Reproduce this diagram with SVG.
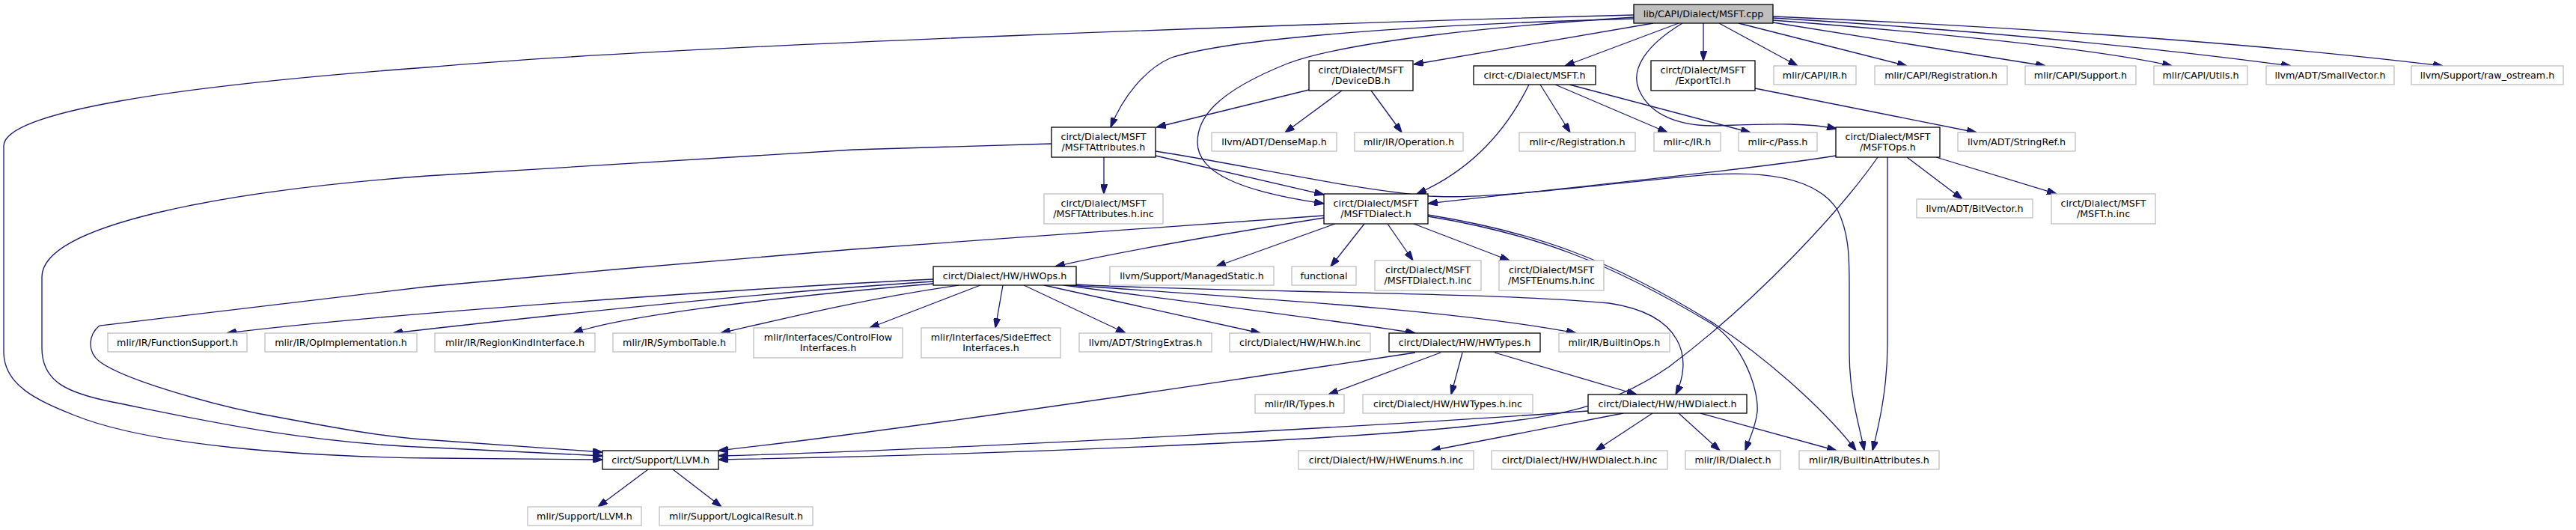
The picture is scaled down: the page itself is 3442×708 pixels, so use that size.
<svg xmlns="http://www.w3.org/2000/svg" width="3442" height="708" viewBox="0 0 3442 708">
<style>
.n rect{fill:#fff;stroke:#000;stroke-width:1.3}
.x rect{fill:#fff;stroke:#bfbfbf;stroke-width:1.3}
.r rect{fill:#bfbfbf;stroke:#000;stroke-width:1.3}
text{font-family:"DejaVu Sans","Liberation Sans",sans-serif;font-size:12.7px;fill:#000;text-anchor:middle}
.e path{fill:none;stroke:#191970;stroke-width:1.3;marker-end:url(#a)}
</style>
<defs>
<marker id="a" viewBox="0 0 10 7" refX="10" refY="3.5" markerUnits="userSpaceOnUse" markerWidth="13" markerHeight="9" orient="auto">
<path d="M0,0 L10,3.5 L0,7 z" fill="#191970" stroke="#191970"/>
</marker>
</defs>
<rect width="3442" height="708" fill="#fff"/>
<g class="e" id="edges">
<path d="M2183,20 C1800,30 900,60 570,90 C230,115 5,150 5,195 L5,470 C5,515 50,535 100,555 C200,595 400,610 580,612 L805,614"/>
<path d="M1405,192 L1140,200 L570,235 C300,255 56,300 56,370 L56,465 C56,510 90,525 150,537 C250,557 400,592 580,598 L805,609"/>
<path d="M1769,288 L1140,333 L821,360 L570,383 L133,435 C118,447 116,470 133,483 C170,510 300,545 370,557 C450,572 520,585 580,588 L805,604"/>
<path d="M2209,31 L1889,86"/>
<path d="M2243,31 L2091,88"/>
<path d="M2276,31 L2276,81"/>
<path d="M2248,31 C2200,60 2178,92 2190,120 C2205,155 2245,168 2290,168 C2360,166 2410,163 2454,172"/>
<path d="M2297,31 L2402,88"/>
<path d="M2323,31 L2548,88"/>
<path d="M2369,30 L2733,88"/>
<path d="M2369,27 C2600,45 2800,65 2902,88"/>
<path d="M2369,24 C2600,38 2850,60 3061,88"/>
<path d="M2369,22 C2600,32 2950,50 3264,88"/>
<path d="M2183,25 C1900,33 1650,50 1565,77 C1530,92 1500,130 1484,170"/>
<path d="M2183,23 C2000,35 1800,55 1720,85 C1620,125 1600,160 1600,190 C1600,232 1660,256 1769,272"/>
<path d="M1544,208 L1769,260"/>
<path d="M1544,202 C1650,218 1800,252 1910,262 C2000,268 2200,238 2290,233 C2380,228 2432,245 2455,280 C2470,310 2471,340 2471,380 L2471,470 C2471,530 2485,570 2491,602"/>
<path d="M1908,287 C2050,310 2150,345 2290,432 C2380,492 2450,562 2480,602"/>
<path d="M1908,289 C2050,312 2150,350 2288,433 C2330,462 2350,520 2348,550 C2346,570 2338,585 2332,602"/>
<path d="M2453,208 C2350,225 2100,250 1908,272"/>
<path d="M2509,210 C2460,280 2350,400 2230,490 C2150,545 2080,555 2000,565 C1800,590 1300,608 960,614"/>
<path d="M2522,210 L2522,460 C2522,520 2510,570 2502,602"/>
<path d="M2548,210 L2622,266"/>
<path d="M2587,210 L2748,259"/>
<path d="M2043,113 C2010,180 1960,230 1893,259"/>
<path d="M2058,113 L2098,177"/>
<path d="M2078,113 L2228,177"/>
<path d="M2097,113 L2339,177"/>
<path d="M2345,118 L2641,177"/>
<path d="M1793,121 L1717,177"/>
<path d="M1832,121 L1873,177"/>
<path d="M1749,120 L1545,170"/>
<path d="M1475,210 L1475,259"/>
<path d="M1769,291 C1650,310 1500,335 1410,356"/>
<path d="M1784,299 L1625,356"/>
<path d="M1823,299 L1778,356"/>
<path d="M1854,299 L1888,348"/>
<path d="M1889,299 L2017,348"/>
<path d="M1247,373 C1000,385 500,420 303,445"/>
<path d="M1247,376 C1000,392 700,425 525,445"/>
<path d="M1247,379 C1000,400 820,425 766,445"/>
<path d="M1281,381 C1150,400 1050,425 963,445"/>
<path d="M1310,381 L1162,438"/>
<path d="M1340,381 L1330,438"/>
<path d="M1368,381 L1504,445"/>
<path d="M1395,381 L1684,445"/>
<path d="M1421,381 C1600,405 1800,430 1891,445"/>
<path d="M1429,381 C1700,400 1950,415 2106,445"/>
<path d="M1438,380 C1600,390 2000,390 2150,405 C2250,420 2262,480 2239,527"/>
<path d="M1891,471 C1700,500 1200,575 960,602"/>
<path d="M1925,471 L1775,527"/>
<path d="M1954,471 L1939,527"/>
<path d="M1997,471 L2187,527"/>
<path d="M2122,549 C1900,565 1300,600 960,609"/>
<path d="M2169,552 L1912,602"/>
<path d="M2208,552 L2132,602"/>
<path d="M2243,552 L2298,602"/>
<path d="M2272,552 L2454,602"/>
<path d="M866,627 L799,677"/>
<path d="M899,627 L964,677"/>
</g>
<g id="root" class="r"><rect x="2183" y="6" width="186" height="25"/><text x="2276" y="23">lib/CAPI/Dialect/MSFT.cpp</text></g>
<g id="devicedb" class="n"><rect x="1749" y="81" width="139" height="40"/><text x="1818.5" y="97.5">circt/Dialect/MSFT</text><text x="1818.5" y="112">/DeviceDB.h</text></g>
<g id="circtc_msft" class="n"><rect x="1969" y="88" width="163" height="25"/><text x="2050.5" y="104.5">circt-c/Dialect/MSFT.h</text></g>
<g id="exporttcl" class="n"><rect x="2206" y="81" width="139" height="40"/><text x="2275.5" y="97.5">circt/Dialect/MSFT</text><text x="2275.5" y="112">/ExportTcl.h</text></g>
<g id="capi_ir" class="x"><rect x="2370" y="88" width="110" height="25"/><text x="2425" y="104.5">mlir/CAPI/IR.h</text></g>
<g id="capi_reg" class="x"><rect x="2505" y="88" width="177" height="25"/><text x="2593.5" y="104.5">mlir/CAPI/Registration.h</text></g>
<g id="capi_sup" class="x"><rect x="2706" y="88" width="148" height="25"/><text x="2780" y="104.5">mlir/CAPI/Support.h</text></g>
<g id="capi_utils" class="x"><rect x="2878" y="88" width="125" height="25"/><text x="2940.5" y="104.5">mlir/CAPI/Utils.h</text></g>
<g id="smallvector" class="x"><rect x="3028" y="88" width="171" height="25"/><text x="3113.5" y="104.5">llvm/ADT/SmallVector.h</text></g>
<g id="raw_ostream" class="x"><rect x="3222" y="88" width="203" height="25"/><text x="3323.5" y="104.5">llvm/Support/raw_ostream.h</text></g>
<g id="msftattr" class="n"><rect x="1405" y="170" width="139" height="40"/><text x="1474.5" y="186.5">circt/Dialect/MSFT</text><text x="1474.5" y="201">/MSFTAttributes.h</text></g>
<g id="densemap" class="x"><rect x="1619" y="177" width="167" height="25"/><text x="1702.5" y="193.5">llvm/ADT/DenseMap.h</text></g>
<g id="operation" class="x"><rect x="1810" y="177" width="145" height="25"/><text x="1882.5" y="193.5">mlir/IR/Operation.h</text></g>
<g id="mlirc_reg" class="x"><rect x="2030" y="177" width="155" height="25"/><text x="2107.5" y="193.5">mlir-c/Registration.h</text></g>
<g id="mlirc_ir" class="x"><rect x="2210" y="177" width="89" height="25"/><text x="2254.5" y="193.5">mlir-c/IR.h</text></g>
<g id="mlirc_pass" class="x"><rect x="2323" y="177" width="105" height="25"/><text x="2375.5" y="193.5">mlir-c/Pass.h</text></g>
<g id="msftops" class="n"><rect x="2453" y="170" width="139" height="40"/><text x="2522.5" y="186.5">circt/Dialect/MSFT</text><text x="2522.5" y="201">/MSFTOps.h</text></g>
<g id="stringref" class="x"><rect x="2616" y="177" width="157" height="25"/><text x="2694.5" y="193.5">llvm/ADT/StringRef.h</text></g>
<g id="msftattr_inc" class="x"><rect x="1395" y="259" width="159" height="40"/><text x="1474.5" y="275.5">circt/Dialect/MSFT</text><text x="1474.5" y="290">/MSFTAttributes.h.inc</text></g>
<g id="msftdialect" class="n"><rect x="1769" y="259" width="139" height="40"/><text x="1838.5" y="275.5">circt/Dialect/MSFT</text><text x="1838.5" y="290">/MSFTDialect.h</text></g>
<g id="bitvector" class="x"><rect x="2561" y="266" width="155" height="25"/><text x="2638.5" y="282.5">llvm/ADT/BitVector.h</text></g>
<g id="msft_inc" class="x"><rect x="2741" y="259" width="139" height="40"/><text x="2810.5" y="275.5">circt/Dialect/MSFT</text><text x="2810.5" y="290">/MSFT.h.inc</text></g>
<g id="hwops" class="n"><rect x="1247" y="356" width="191" height="25"/><text x="1342.5" y="372.5">circt/Dialect/HW/HWOps.h</text></g>
<g id="managedstatic" class="x"><rect x="1483" y="356" width="219" height="25"/><text x="1592.5" y="372.5">llvm/Support/ManagedStatic.h</text></g>
<g id="functional" class="x"><rect x="1726" y="356" width="86" height="25"/><text x="1769" y="372.5">functional</text></g>
<g id="msftdialect_inc" class="x"><rect x="1837" y="348" width="142" height="40"/><text x="1908" y="364.5">circt/Dialect/MSFT</text><text x="1908" y="379">/MSFTDialect.h.inc</text></g>
<g id="msftenums_inc" class="x"><rect x="2003" y="348" width="140" height="40"/><text x="2073" y="364.5">circt/Dialect/MSFT</text><text x="2073" y="379">/MSFTEnums.h.inc</text></g>
<g id="funcsupport" class="x"><rect x="144" y="445" width="186" height="25"/><text x="237" y="461.5">mlir/IR/FunctionSupport.h</text></g>
<g id="opimpl" class="x"><rect x="354" y="445" width="203" height="25"/><text x="455.5" y="461.5">mlir/IR/OpImplementation.h</text></g>
<g id="regionkind" class="x"><rect x="581" y="445" width="214" height="25"/><text x="688" y="461.5">mlir/IR/RegionKindInterface.h</text></g>
<g id="symboltable" class="x"><rect x="819" y="445" width="164" height="25"/><text x="901" y="461.5">mlir/IR/SymbolTable.h</text></g>
<g id="controlflow" class="x"><rect x="1007" y="438" width="199" height="40"/><text x="1106.5" y="454.5">mlir/Interfaces/ControlFlow</text><text x="1106.5" y="469">Interfaces.h</text></g>
<g id="sideeffect" class="x"><rect x="1231" y="438" width="186" height="40"/><text x="1324" y="454.5">mlir/Interfaces/SideEffect</text><text x="1324" y="469">Interfaces.h</text></g>
<g id="stringextras" class="x"><rect x="1442" y="445" width="177" height="25"/><text x="1530.5" y="461.5">llvm/ADT/StringExtras.h</text></g>
<g id="hw_inc" class="x"><rect x="1643" y="445" width="188" height="25"/><text x="1737" y="461.5">circt/Dialect/HW/HW.h.inc</text></g>
<g id="hwtypes" class="n"><rect x="1856" y="445" width="202" height="25"/><text x="1957" y="461.5">circt/Dialect/HW/HWTypes.h</text></g>
<g id="builtinops" class="x"><rect x="2083" y="445" width="148" height="25"/><text x="2157" y="461.5">mlir/IR/BuiltinOps.h</text></g>
<g id="types" class="x"><rect x="1677" y="527" width="119" height="25"/><text x="1736.5" y="543.5">mlir/IR/Types.h</text></g>
<g id="hwtypes_inc" class="x"><rect x="1821" y="527" width="227" height="25"/><text x="1934.5" y="543.5">circt/Dialect/HW/HWTypes.h.inc</text></g>
<g id="hwdialect" class="n"><rect x="2122" y="527" width="212" height="25"/><text x="2228" y="543.5">circt/Dialect/HW/HWDialect.h</text></g>
<g id="circt_llvm" class="n"><rect x="805" y="602" width="155" height="25"/><text x="882.5" y="618.5">circt/Support/LLVM.h</text></g>
<g id="hwenums_inc" class="x"><rect x="1735" y="602" width="234" height="25"/><text x="1852" y="618.5">circt/Dialect/HW/HWEnums.h.inc</text></g>
<g id="hwdialect_inc" class="x"><rect x="1993" y="602" width="235" height="25"/><text x="2110.5" y="618.5">circt/Dialect/HW/HWDialect.h.inc</text></g>
<g id="dialect" class="x"><rect x="2252" y="602" width="127" height="25"/><text x="2315.5" y="618.5">mlir/IR/Dialect.h</text></g>
<g id="builtinattr" class="x"><rect x="2404" y="602" width="187" height="25"/><text x="2497.5" y="618.5">mlir/IR/BuiltinAttributes.h</text></g>
<g id="mlir_llvm" class="x"><rect x="705" y="677" width="152" height="25"/><text x="781" y="693.5">mlir/Support/LLVM.h</text></g>
<g id="logicalresult" class="x"><rect x="881" y="677" width="205" height="25"/><text x="983.5" y="693.5">mlir/Support/LogicalResult.h</text></g>
</svg>
